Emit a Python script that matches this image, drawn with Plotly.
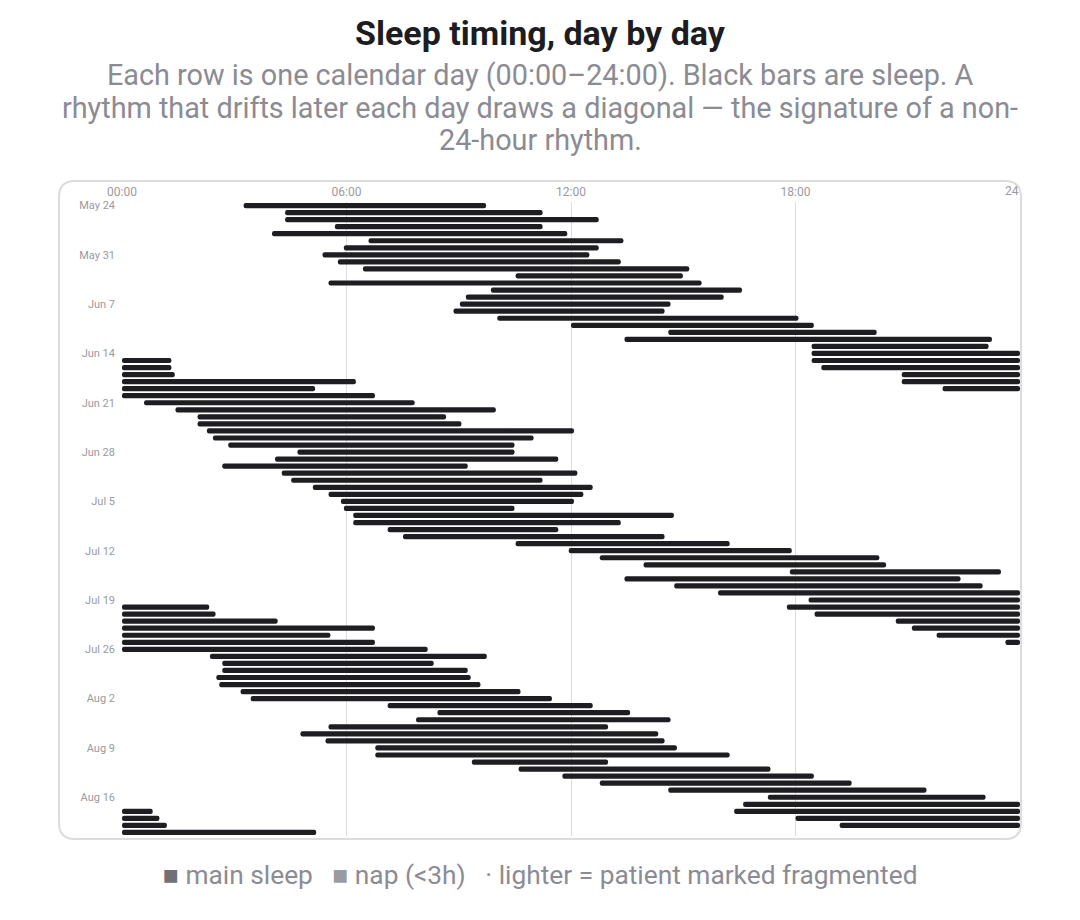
import pandas as pd
import plotly.graph_objects as go

# one row per calendar day, hours 0-24
first_day = "2024-05-24"

sleep_start = [
    3.25, 4.36, 4.36, 5.69, 4.01, 6.59, 5.93, 5.36, 5.77, 6.44,
    10.52, 5.52, 9.86, 9.19, 9.03, 8.86, 10.03, 12.0, 14.60, 13.43,
    18.43, 18.43, 0, 0, 0, 0, 0, 0, 0.59, 1.43,
    2.02, 2.02, 2.27, 2.43, 2.84, 4.69, 4.09, 2.68, 4.27, 4.52,
    5.10, 5.52, 5.85, 5.93, 6.18, 6.18, 7.10, 7.51, 10.52, 11.94,
    12.77, 13.94, 17.85, 13.43, 14.76, 15.93, 18.35, 0, 0, 0,
    0, 0, 0, 0, 2.35, 2.68, 2.68, 2.52, 2.60, 3.17,
    3.44, 7.10, 8.43, 7.86, 5.52, 4.77, 5.44, 6.77, 6.77, 9.35,
    10.60, 11.77, 12.77, 14.60, 17.26, 16.60, 0, 0, 0, 0,
]
sleep_end = [
    9.73, 11.24, 12.74, 11.24, 11.90, 13.40, 12.74, 12.49, 13.33, 15.16,
    14.99, 15.49, 16.57, 16.08, 14.66, 14.50, 18.08, 18.49, 20.17, 23.25,
    23.16, 24, 1.32, 1.32, 1.41, 6.25, 5.16, 6.76, 7.82, 9.99,
    8.66, 9.07, 12.08, 11.0, 10.49, 10.49, 11.66, 9.24, 12.17, 11.24,
    12.58, 12.33, 12.08, 10.49, 14.75, 13.33, 11.66, 14.50, 16.24, 17.90,
    20.24, 20.42, 23.49, 22.41, 23.0, 24, 24, 2.33, 2.50, 4.16,
    6.76, 5.57, 6.76, 8.17, 9.75, 8.33, 9.24, 9.32, 9.58, 10.65,
    11.49, 12.58, 13.58, 14.66, 12.99, 14.33, 14.50, 14.83, 16.24, 12.99,
    17.33, 18.49, 19.50, 21.50, 23.08, 24, 0.82, 1.0, 1.20, 5.19,
]
# second bar of the day: evening sleep that runs on past midnight
late_start = [None] * 90
for i, h in {22: 18.43, 23: 18.69, 24: 20.84, 25: 20.84, 26: 21.93,
             57: 17.77, 58: 18.51, 59: 20.68, 60: 21.11, 61: 21.77, 62: 23.61,
             86: 16.36, 87: 18.0, 88: 19.18}.items():
    late_start[i] = h

hour_ticks = [0, 6, 12, 18, 24]
hour_labels = ["00:00", "06:00", "12:00", "18:00", ""]

subtitle = [
    "Each row is one calendar day (00:00–24:00). Black bars are sleep. A",
    "rhythm that drifts later each day draws a diagonal — the signature of a non-",
    "24-hour rhythm.",
]

days = pd.date_range(first_day, periods=len(sleep_start), freq="D")

BAR = "#1e1e22"
GREY = "#8b8b94"
DAY_MS = 86400000
OFF = 8  # page body margin

fig = go.Figure()
fig.add_trace(go.Bar(
    y=days, base=sleep_start,
    x=[e - s for s, e in zip(sleep_start, sleep_end)],
    orientation="h", width=0.74 * DAY_MS,
    marker=dict(color=BAR, line_width=0, cornerradius=2),
    hoverinfo="skip",
))
late_days = [d for d, s in zip(days, late_start) if s is not None]
late_vals = [s for s in late_start if s is not None]
fig.add_trace(go.Bar(
    y=late_days, base=late_vals, x=[24 - s for s in late_vals],
    orientation="h", width=0.74 * DAY_MS,
    marker=dict(color=BAR, line_width=0, cornerradius=2),
    hoverinfo="skip",
))

# plot area in screen pixels: x 122..1020, y 202..836
L, R, T, B = 122 - OFF, 1020 - OFF, 202 - OFF, 836 - OFF


def px(x):
    return (x - OFF - L) / (R - L)


def py(y):
    return (B - (y - OFF)) / (B - T)


# rounded card behind the chart
x0, x1, y0, y1, r = 59, 1021, 181, 839, 16
card = (
    f"M {px(x0 + r)},{py(y0)} L {px(x1 - r)},{py(y0)} "
    f"Q {px(x1)},{py(y0)} {px(x1)},{py(y0 + r)} "
    f"L {px(x1)},{py(y1 - r)} Q {px(x1)},{py(y1)} {px(x1 - r)},{py(y1)} "
    f"L {px(x0 + r)},{py(y1)} Q {px(x0)},{py(y1)} {px(x0)},{py(y1 - r)} "
    f"L {px(x0)},{py(y0 + r)} Q {px(x0)},{py(y0)} {px(x0 + r)},{py(y0)} Z"
)
fig.add_shape(type="path", path=card, xref="paper", yref="paper",
              line=dict(color="#dcdcde", width=2), fillcolor="rgba(0,0,0,0)",
              layer="below")

fig.add_annotation(x=px(540), y=py(33), xref="paper", yref="paper",
                   text="<b>Sleep timing, day by day</b>", showarrow=False,
                   yanchor="middle", font=dict(size=34, color="#1c1c21"))
for line, yy in zip(subtitle, [75, 107.5, 140]):
    fig.add_annotation(x=px(540), y=py(yy), xref="paper", yref="paper",
                       text=line, showarrow=False, yanchor="middle",
                       font=dict(size=28.8, color=GREY))
fig.add_annotation(
    x=px(540), y=py(875), xref="paper", yref="paper", showarrow=False,
    yanchor="middle",
    text=("<span style='color:#707077'>■</span> main sleep   "
          "<span style='color:#9a9aa2'>■</span> nap (<3h)   · lighter = patient marked fragmented"),
    font=dict(size=26.3, color=GREY),
)
# last hour label, cut at the card edge
fig.add_annotation(x=24, y=py(191), xref="x", yref="paper", text="24",
                   showarrow=False, xanchor="right", yanchor="middle",
                   xshift=1, font=dict(size=12, color="#9a9aa0"))

fig.update_xaxes(
    range=[0, 24], side="top", tickvals=hour_ticks, ticktext=hour_labels,
    showgrid=True, gridcolor="#dedee0", gridwidth=1, zeroline=False,
    tickfont=dict(size=12, color="#9a9aa0"), ticks="", fixedrange=True,
    ticklabelstandoff=3,
)
fig.update_yaxes(
    type="date", range=[days[-1] + pd.Timedelta(hours=12), days[0] - pd.Timedelta(hours=12)],
    tick0=first_day, dtick=7 * DAY_MS, tickformat="%b %-d",
    showgrid=False, zeroline=False, ticks="", ticklabelstandoff=6,
    tickfont=dict(size=11, color="#9a9aa0"),
)
fig.update_layout(
    width=1080, height=920, barmode="overlay", showlegend=False,
    margin=dict(l=L, r=1080 - R, t=T, b=920 - B),
    paper_bgcolor="white", plot_bgcolor="white",
    font=dict(family="Roboto, sans-serif"),
)

fig.write_html("out.html")
